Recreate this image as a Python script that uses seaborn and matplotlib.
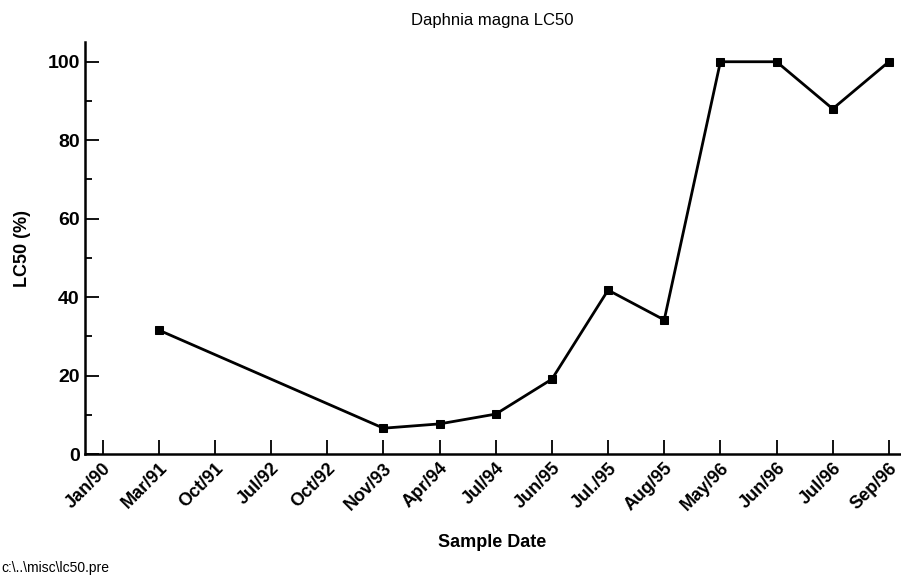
import numpy as np
import pandas as pd
import seaborn as sns
import matplotlib.pyplot as plt

dates = ['Jan/90', 'Mar/91', 'Oct/91', 'Jul/92', 'Oct/92', 'Nov/93', 'Apr/94', 'Jul/94',
         'Jun/95', 'Jul./95', 'Aug/95', 'May/96', 'Jun/96', 'Jul/96', 'Sep/96']
lc50 = [np.nan, 31.6, np.nan, np.nan, np.nan, 6.6, 7.7, 10.2,
        19.1, 41.8, 34.2, 100, 100, 88.0, 100]

df = pd.DataFrame({'pos': range(len(dates)), 'date': dates, 'lc50': lc50}).dropna()

sns.set_style('ticks')
plt.rcParams['font.family'] = ['Liberation Sans', 'DejaVu Sans']
plt.rcParams['text.color'] = 'black'
plt.rcParams['axes.labelcolor'] = 'black'
plt.rcParams['xtick.color'] = 'black'
plt.rcParams['ytick.color'] = 'black'

fig = plt.figure(figsize=(9.01, 5.77), dpi=100)
ax = fig.add_axes([0.094, 0.213, 0.905, 0.714])

sns.lineplot(data=df, x='pos', y='lc50', ax=ax, color='black', linewidth=2,
             marker='s', markersize=6, markeredgecolor='black')

ax.set_xlim(-0.32, 14.2)
ax.set_ylim(0, 105)
ax.set_xticks(range(len(dates)))
ax.set_xticklabels(dates, rotation=45, ha='right', rotation_mode='anchor',
                   fontsize=13, fontweight='bold')
ax.set_yticks([0, 20, 40, 60, 80, 100])
ax.set_yticks([10, 30, 50, 70, 90], minor=True)
ax.tick_params(axis='y', labelsize=14)
for lab in ax.get_yticklabels():
    lab.set_fontweight('bold')
ax.tick_params(direction='in', length=10, width=1.3, color='black')
ax.tick_params(which='minor', direction='in', length=5, width=1.3)
ax.tick_params(axis='x', pad=4)
sns.despine(ax=ax)
for s in ['left', 'bottom']:
    ax.spines[s].set_linewidth(1.8)
    ax.spines[s].set_color('black')

ax.set_title('Daphnia magna LC50', fontsize=12, pad=12)
ax.set_xlabel('Sample Date', fontsize=13, fontweight='bold', labelpad=14)
ax.set_ylabel('LC50 (%)', fontsize=13, fontweight='bold', labelpad=12)
fig.text(0.002, 0.008, 'c:\\..\\misc\\lc50.pre', fontsize=10)

fig.savefig('out.png', dpi=100)
